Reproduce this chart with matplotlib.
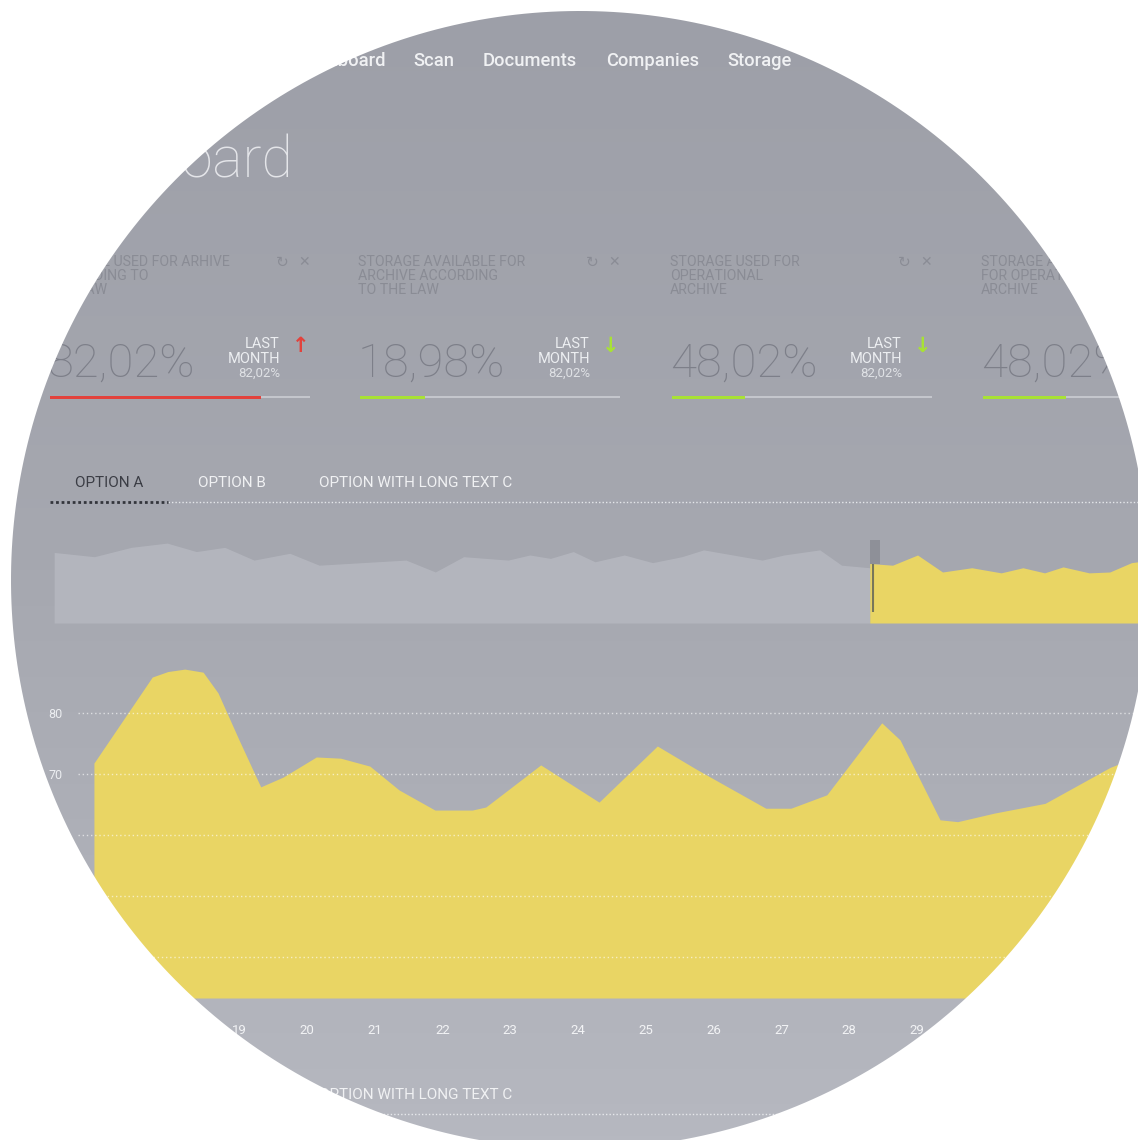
import matplotlib.pyplot as plt
import numpy as np
from matplotlib.colors import LinearSegmentedColormap
from matplotlib.path import Path
from matplotlib.patches import PathPatch

plt.rcParams['font.family'] = ['Roboto', 'DejaVu Sans']

# --- data ---
menu_items = ["Dashboard", "Scan", "Documents", "Companies", "Storage", "Settings"]

card_titles = ["STORAGE USED FOR ARHIVE\nACCORDING TO\nTHE LAW",
               "STORAGE AVAILABLE FOR\nARCHIVE ACCORDING\nTO THE LAW",
               "STORAGE USED FOR\nOPERATIONAL\nARCHIVE",
               "STORAGE AVAILABLE\nFOR OPERATIONAL\nARCHIVE"]
card_values = ["82,02%", "18,98%", "48,02%", "48,02%"]
card_last_month = ["82,02%", "82,02%", "82,02%", "82,02%"]
card_trend = ["up", "down", "down", "down"]
card_bar_fill = [0.81, 0.25, 0.28, 0.32]

tabs = ["OPTION A", "OPTION B", "OPTION WITH LONG TEXT C"]

# overview strip (position in % of timeline, value in % of strip height)
nav_pos = [0.2, 3.9, 7.3, 10.6, 13.3, 15.9, 18.6, 21.9, 24.6, 29.9, 32.6, 35.3,
           37.9, 42.0, 44.0, 45.9, 48.0, 50.0, 52.7, 55.3, 58.0, 60.0, 62.7,
           65.4, 67.4, 70.7, 72.7, 75.3]
nav_values = [83, 78, 89, 94, 84, 89, 74, 82, 68, 72, 74, 60,
              78, 74, 80, 76, 84, 72, 80, 71, 78, 86, 80,
              74, 80, 86, 68, 65]
sel_pos = [75.3, 77.4, 79.7, 82.0, 84.7, 87.4, 89.4, 91.4, 93.1, 95.5, 97.4, 99.4, 100]
sel_values = [70, 68, 80, 60, 65, 59, 65, 59, 66, 59, 60, 71, 72]
sel_start = 75.3

# main area chart
days = [16.86, 17.72, 17.95, 18.2, 18.47, 18.69, 19.0, 19.32, 19.65, 20.14, 20.5,
        20.93, 21.36, 21.89, 22.44, 22.64, 23.45, 24.31, 25.17, 25.76, 26.77,
        27.14, 27.67, 28.48, 28.75, 29.34, 29.6, 30.14, 30.89, 31.85, 32.4]
values = [71.8, 85.9, 86.8, 87.2, 86.7, 83.3, 75.6, 67.9, 69.5, 72.8, 72.6,
          71.3, 67.4, 64.1, 64.1, 64.6, 71.5, 65.4, 74.6, 70.7, 64.4,
          64.4, 66.6, 78.4, 75.6, 62.5, 62.2, 63.6, 65.2, 71.1, 73.5]
y_ticks = [40, 50, 60, 70, 80]
x_ticks = list(range(17, 33))

if __name__ == "__main__":
    W, H = 1138, 1140
    fig = plt.figure(figsize=(W / 100, H / 100), dpi=100)

    # background (pixel coordinates, y down)
    bg = fig.add_axes([0, 0, 1, 1], zorder=0)
    bg.set_xlim(0, W)
    bg.set_ylim(H, 0)
    bg.axis('off')
    cmap = LinearSegmentedColormap.from_list('bg', ['#9d9fa8', '#a6a8b0', '#b6b8c0'])
    bg.imshow(np.linspace(0, 1, 256).reshape(-1, 1), extent=[0, W, H, 0],
              aspect='auto', cmap=cmap, zorder=0)

    # top menu
    bg.text(386, 61, menu_items[0], ha='right', va='center', fontsize=13.2,
            color='#f0f1f3', fontweight='medium')
    for item, x in zip(menu_items[1:], [413, 483, 606, 727, 822]):
        bg.text(x, 61, item, ha='left', va='center', fontsize=13.2,
                color='#f0f1f3', fontweight='medium')

    # page title
    bg.text(293, 177, "Dashboard", ha='right', va='baseline', fontsize=41,
            color='#e4e5e9', fontweight='light')

    # cards
    for i, cx in enumerate([48, 358, 670, 981]):
        bg.text(cx, 255, card_titles[i], ha='left', va='top', fontsize=10.2,
                color='#8a8c95', linespacing=1.0)
        bg.text(cx, 377, card_values[i], ha='left', va='baseline', fontsize=34,
                color='#7d7f89', fontweight=100)
        c = '#e2423c' if card_trend[i] == "up" else '#a8e234'
        bg.barh(397, 260, left=cx + 2, height=2.5, color='#c4c6cc', zorder=2)
        bg.barh(397, 260 * card_bar_fill[i], left=cx + 2, height=3, color=c, zorder=3)
        if cx + 260 > W:
            continue  # the rest of this card lies off the picture
        bg.text(cx + 234, 262, "\u21bb", ha='center', va='center', fontsize=11,
                color='#8a8c95', family='DejaVu Sans')
        bg.text(cx + 256, 262, "\u2715", ha='center', va='center', fontsize=10,
                color='#8a8c95', family='DejaVu Sans')
        bg.text(cx + 232, 348, "LAST", ha='right', va='baseline', fontsize=10.5,
                color='#eceef1')
        bg.text(cx + 232, 363, "MONTH", ha='right', va='baseline', fontsize=10.5,
                color='#eceef1')
        bg.text(cx + 232, 377, card_last_month[i], ha='right', va='baseline',
                fontsize=9.5, color='#dfe1e5')
        arrow = "\u2191" if card_trend[i] == "up" else "\u2193"
        bg.text(cx + 253, 346, arrow, ha='center', va='center', fontsize=15,
                color=c, family='DejaVu Sans', fontweight='bold')

    # tabs (top and bottom copies)
    for ty in [487, 1099]:
        for j, (t, x) in enumerate(zip(tabs, [75, 198, 319])):
            bg.text(x, ty, t, ha='left', va='baseline', fontsize=11,
                    color='#3b3d45' if j == 0 else '#f0f1f3')
        bg.plot([168, W], [ty + 15, ty + 15], color='#eceef1', lw=1,
                linestyle=(0, (1, 1.5)), alpha=0.9)
        bg.plot([50, 168], [ty + 15, ty + 15], color='#33353c', lw=2,
                linestyle=(0, (1, 1)))

    # overview strip
    nav = fig.add_axes([52 / W, (H - 623) / H, (W - 52) / W, 85 / H], zorder=1)
    nav.set_xlim(0, 100)
    nav.set_ylim(0, 100)
    nav.axis('off')
    nav.fill_between(nav_pos, nav_values, 0, color='#b5b7bf', lw=0, alpha=0.9)
    nav.fill_between(sel_pos, sel_values, 0, color='#e9d564', lw=0)
    nav.bar(sel_start + 0.45, 28, bottom=70, width=0.9, color='#8e9098')
    nav.vlines(sel_start + 0.3, 13, 70, color='#77775a', lw=1.5)

    # main chart
    y_floor = 33.3
    ax = fig.add_axes([78 / W, (H - 998) / H, (W - 78) / W, (998 - 640) / H], zorder=2)
    ax.set_facecolor('none')
    ax.set_xlim(16.625, 32.26)
    ax.set_ylim(y_floor, 91.97)
    ax.fill_between(days, values, y_floor, color='#e9d564', lw=0)
    for s in ax.spines.values():
        s.set_visible(False)
    ax.set_yticks(y_ticks)
    ax.set_yticklabels([str(v) for v in y_ticks])
    ax.set_xticks(x_ticks)
    ax.set_xticklabels([str(d) for d in x_ticks])
    ax.yaxis.grid(True, color='white', linestyle=(0, (1, 2)), alpha=0.6, lw=1)
    ax.set_axisbelow(False)
    ax.tick_params(axis='x', length=0, pad=19, labelsize=9.5, labelcolor='#f2f3f5')
    ax.tick_params(axis='y', length=0, pad=11, labelsize=9, labelcolor='#eceef1')

    # circular crop
    mask = fig.add_axes([0, 0, 1, 1], zorder=10)
    mask.set_xlim(0, W)
    mask.set_ylim(H, 0)
    mask.axis('off')
    mask.patch.set_alpha(0)
    t = np.linspace(0, -2 * np.pi, 400)
    circ = np.column_stack([580 + 569 * np.cos(t), 580 + 569 * np.sin(t)])
    rect = np.array([[-10, -10], [W + 10, -10], [W + 10, H + 10], [-10, H + 10], [-10, -10]])
    verts = np.vstack([rect, circ])
    codes = ([Path.MOVETO] + [Path.LINETO] * 3 + [Path.CLOSEPOLY] +
             [Path.MOVETO] + [Path.LINETO] * (len(circ) - 2) + [Path.CLOSEPOLY])
    mask.add_patch(PathPatch(Path(verts, codes), facecolor='white', edgecolor='none'))

    plt.savefig("out.png", dpi=100)
